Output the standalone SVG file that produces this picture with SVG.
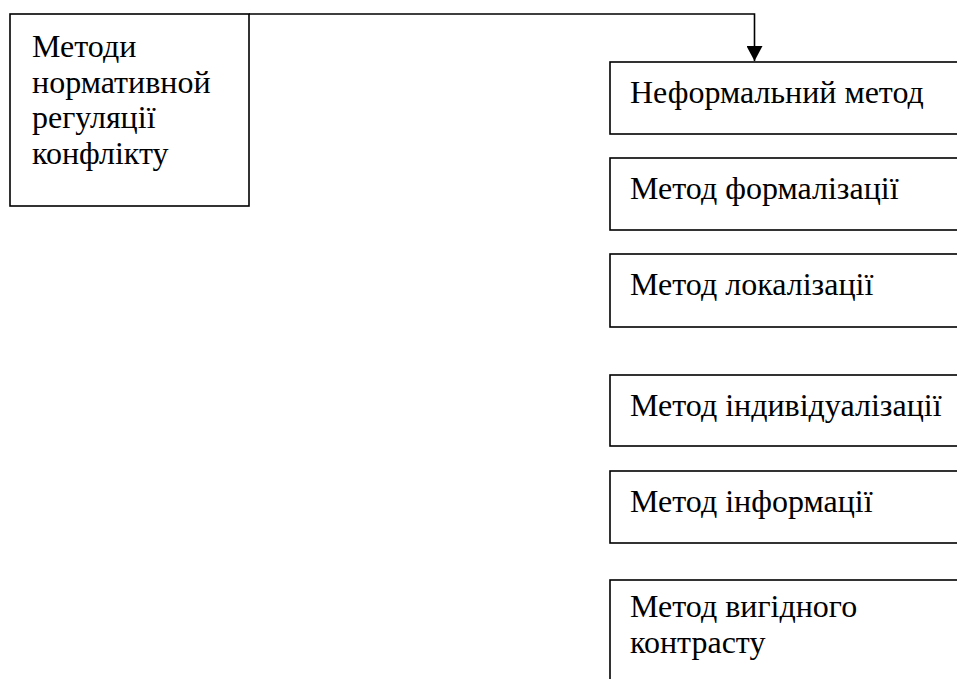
<svg xmlns="http://www.w3.org/2000/svg" width="957" height="679" viewBox="0 0 957 679">
<defs>
<marker id="arr" markerWidth="16" markerHeight="16" viewBox="0 0 16 16" refX="15" refY="8" orient="auto" markerUnits="userSpaceOnUse">
<path d="M0,0 L15,8 L0,16 Z" fill="#000"/>
</marker>
</defs>
<rect width="957" height="679" fill="#fff"/>
<g id="connectors">
<path d="M249,14 H754.5 V61" fill="none" stroke="#000" stroke-width="1.6" marker-end="url(#arr)"/>
</g>
<g id="main">
<rect x="10" y="14" width="239" height="192" fill="#fff" stroke="#000" stroke-width="1.6"/>
<text x="32" y="57" font-family="Liberation Serif" font-size="32">Методи</text>
<text x="32" y="93" font-family="Liberation Serif" font-size="32">нормативной</text>
<text x="32" y="128" font-family="Liberation Serif" font-size="32">регуляції</text>
<text x="32" y="164" font-family="Liberation Serif" font-size="32">конфлікту</text>
</g>
<g id="n1">
<rect x="610" y="62" width="360" height="72" fill="#fff" stroke="#000" stroke-width="1.6"/>
<text x="630" y="103" font-family="Liberation Serif" font-size="32">Неформальний метод</text>
</g>
<g id="n2">
<rect x="610" y="158" width="360" height="72" fill="#fff" stroke="#000" stroke-width="1.6"/>
<text x="630" y="199" font-family="Liberation Serif" font-size="32">Метод формалізації</text>
</g>
<g id="n3">
<rect x="610" y="254" width="360" height="73" fill="#fff" stroke="#000" stroke-width="1.6"/>
<text x="630" y="295" font-family="Liberation Serif" font-size="32">Метод локалізації</text>
</g>
<g id="n4">
<rect x="610" y="375" width="360" height="71" fill="#fff" stroke="#000" stroke-width="1.6"/>
<text x="630" y="416" font-family="Liberation Serif" font-size="32">Метод індивідуалізації</text>
</g>
<g id="n5">
<rect x="610" y="471" width="360" height="72" fill="#fff" stroke="#000" stroke-width="1.6"/>
<text x="630" y="512" font-family="Liberation Serif" font-size="32">Метод інформації</text>
</g>
<g id="n6">
<rect x="610" y="580" width="360" height="120" fill="#fff" stroke="#000" stroke-width="1.6"/>
<text x="630" y="617" font-family="Liberation Serif" font-size="32">Метод вигідного</text>
<text x="630" y="653" font-family="Liberation Serif" font-size="32">контрасту</text>
</g>
</svg>
